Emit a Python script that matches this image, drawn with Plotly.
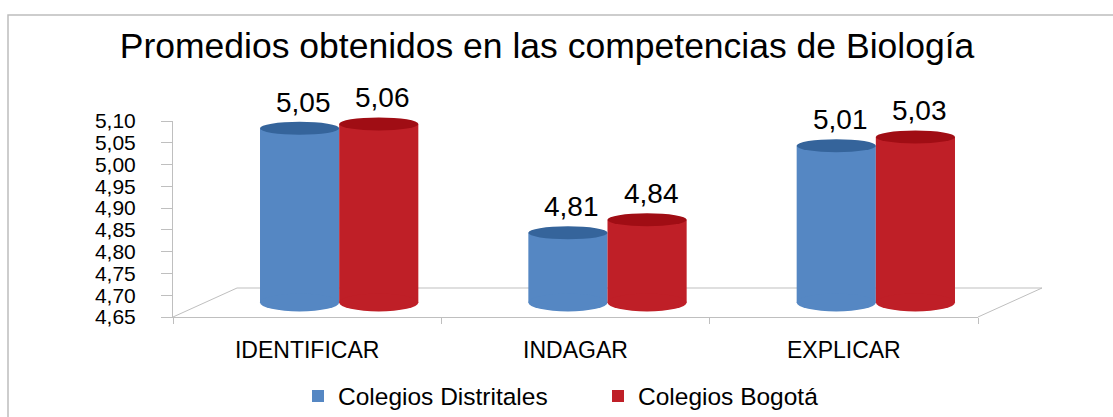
import plotly.graph_objects as go

# ---------------- data ----------------
CATEGORIES = ["IDENTIFICAR", "INDAGAR", "EXPLICAR"]
SERIES_NAMES = ["Colegios Distritales", "Colegios Bogotá"]
DISTRITALES = [5.05, 4.81, 5.01]
BOGOTA = [5.06, 4.84, 5.03]
Y_TICKS = [4.65, 4.70, 4.75, 4.80, 4.85, 4.90, 4.95, 5.00, 5.05, 5.10]
TITLE = "Promedios obtenidos en las competencias de Biología"

# ---------------- style ----------------
BODY = ["#5587C3", "#BF1F27"]
TOP = ["#35649B", "#A00D14"]
GRID = "#BFBFBF"
FONT = "Liberation Sans, Arial, sans-serif"

W, H = 1113, 417
L, R, T, B = 173, 103, 106, 100          # plotting paper area (pixels)
PW, PH = W - L - R, H - T - B
DX, DY = 64, 29                          # 3-D depth offset (pixels)
AX_W, AX_H = PW - DX // 2, 196           # front axis size in pixels
CAP_PAD = 12                             # room below bars for bottom caps

def px2paper_x(px):
    return (px - L) / PW

def px2paper_y(py):
    return (H - B - py) / PH

BARGAP = 0.41
ymin, ymax = Y_TICKS[0], Y_TICKS[-1]
per_px = (ymax - ymin) / AX_H
series = [DISTRITALES, BOGOTA]

fig = go.Figure()
# invisible trace that anchors the visible front axes
fig.add_trace(go.Scatter(x=CATEGORIES, y=[None] * len(CATEGORIES),
                         mode="markers", showlegend=False, hoverinfo="skip",
                         xaxis="x", yaxis="y"))
for k, (name, vals) in enumerate(zip(SERIES_NAMES, series)):
    fig.add_trace(go.Bar(
        x=CATEGORIES, y=[v - ymin for v in vals], base=ymin, name=name,
        marker=dict(color=BODY[k], line=dict(width=0)),
        xaxis="x2", yaxis="y2", hoverinfo="skip",
    ))

shapes = []
annotations = []
half = (1 - BARGAP) / 2
for k, vals in enumerate(series):
    for i, v in enumerate(vals):
        x0 = i - half + k * half
        x1 = x0 + half
        # bottom cap (body colour)
        shapes.append(dict(type="circle", xref="x2", yref="y2",
                           x0=x0, x1=x1, ysizemode="pixel", yanchor=ymin,
                           y0=-9, y1=9, fillcolor=BODY[k],
                           line=dict(width=0), layer="above"))
        # top cap (darker)
        shapes.append(dict(type="circle", xref="x2", yref="y2",
                           x0=x0, x1=x1, ysizemode="pixel", yanchor=v,
                           y0=-6.5, y1=6.5, fillcolor=TOP[k],
                           line=dict(width=0), layer="above"))
        annotations.append(dict(
            xref="x2", yref="y2", x=(x0 + x1) / 2, y=v,
            text=f"{v:.2f}".replace(".", ","), showarrow=False,
            xshift=4, yshift=26, yanchor="middle",
            font=dict(size=28, color="black", family=FONT)))

# floor lines (3-D base)
x_left, x_right = L, L + AX_W
y_base = H - B
shapes += [
    dict(type="line", xref="paper", yref="paper",
         x0=px2paper_x(x_left), y0=px2paper_y(y_base),
         x1=px2paper_x(x_left + DX), y1=px2paper_y(y_base - DY),
         line=dict(color=GRID, width=1), layer="below"),
    dict(type="line", xref="paper", yref="paper",
         x0=px2paper_x(x_left + DX), y0=px2paper_y(y_base - DY),
         x1=px2paper_x(x_right + DX), y1=px2paper_y(y_base - DY),
         line=dict(color=GRID, width=1), layer="below"),
    dict(type="line", xref="paper", yref="paper",
         x0=px2paper_x(x_right), y0=px2paper_y(y_base),
         x1=px2paper_x(x_right + DX), y1=px2paper_y(y_base - DY),
         line=dict(color=GRID, width=1), layer="below"),
    # outer chart frame (top & left visible)
    dict(type="rect", xref="paper", yref="paper",
         x0=px2paper_x(8), y0=px2paper_y(H + 20),
         x1=px2paper_x(W + 20), y1=px2paper_y(15),
         line=dict(color="#BDBDBD", width=1.5), layer="below"),
]

fig.update_layout(
    width=W, height=H,
    margin=dict(l=L, r=R, t=T, b=B, autoexpand=False),
    paper_bgcolor="white", plot_bgcolor="rgba(0,0,0,0)",
    separators=",.",
    font=dict(family=FONT, color="black"),
    title=dict(text=TITLE, x=547 / W, xref="container", xanchor="center",
               y=1 - 46 / H, yref="container", yanchor="middle",
               font=dict(size=35.5, color="black", family=FONT)),
    barmode="group", bargap=BARGAP, bargroupgap=0,
    showlegend=True,
    legend=dict(orientation="h", x=px2paper_x(598), xanchor="center",
                y=px2paper_y(396), yanchor="middle",
                entrywidth=255, entrywidthmode="pixels",
                font=dict(size=24.5, color="black", family=FONT),
                bgcolor="rgba(0,0,0,0)"),
    xaxis=dict(type="category", domain=[0, AX_W / PW],
               range=[-0.5, len(CATEGORIES) - 0.5],
               categoryorder="array", categoryarray=CATEGORIES,
               showline=True, linecolor=GRID, linewidth=1,
               ticks="outside", tickson="boundaries", ticklen=6,
               tickcolor=GRID, showgrid=False, zeroline=False,
               ticklabelstandoff=12,
               tickfont=dict(size=23, color="black", family=FONT),
               anchor="y"),
    yaxis=dict(domain=[0, AX_H / PH], range=[ymin, ymax],
               tickmode="array", tickvals=Y_TICKS,
               ticktext=[f"{t:.2f}".replace(".", ",") for t in Y_TICKS],
               showline=True, linecolor=GRID, linewidth=1,
               ticks="outside", ticklen=11, tickcolor=GRID,
               showgrid=False, zeroline=False, ticklabelstandoff=21,
               tickfont=dict(size=21, color="black", family=FONT),
               anchor="x"),
    xaxis2=dict(type="category", domain=[(DX // 2) / PW, 1],
                range=[-0.5, len(CATEGORIES) - 0.5],
                categoryorder="array", categoryarray=CATEGORIES,
                visible=False, anchor="y2"),
    yaxis2=dict(domain=[(DY / 2 - CAP_PAD) / PH, (DY / 2 + AX_H) / PH],
                range=[ymin - CAP_PAD * per_px, ymax],
                visible=False, anchor="x2"),
    shapes=shapes, annotations=annotations,
)

fig.write_html("out.html", config={"displayModeBar": False},
               post_script="document.body.style.margin='0';")
